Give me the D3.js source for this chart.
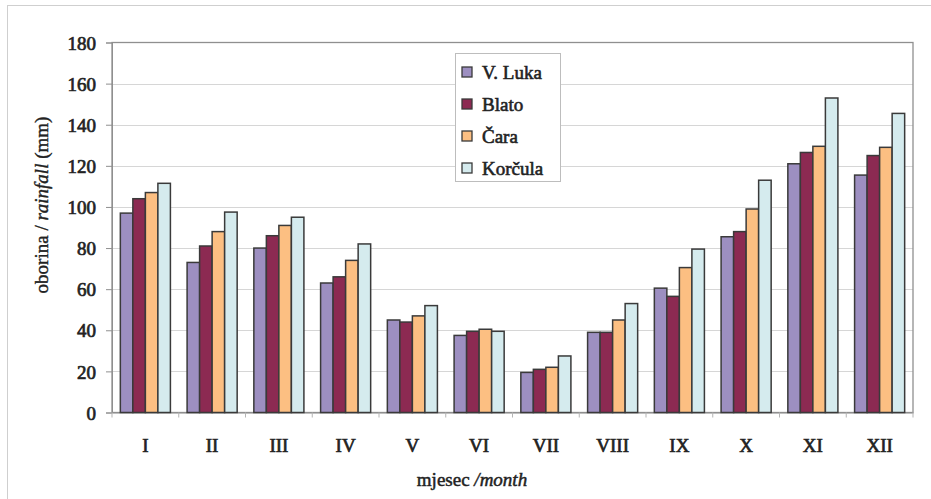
<!DOCTYPE html>
<html>
<head>
<meta charset="utf-8">
<script src="https://cdn.jsdelivr.net/npm/d3@7"></script>
<style>
  html, body { margin: 0; padding: 0; background: #fff; }
  svg { display: block; }
  text { font-family: "Liberation Serif", "DejaVu Serif", serif; fill: #222; }
</style>
</head>
<body>
<svg id="chart" width="931" height="499"></svg>
<script>
const months = ["I", "II", "III", "IV", "V", "VI", "VII", "VIII", "IX", "X", "XI", "XII"];
const seriesNames = ["V. Luka", "Blato", "Čara", "Korčula"];
const vLuka   = [97, 73, 80, 63, 45, 37.5, 19.5, 39, 60.5, 85.5, 121, 115.5];
const blato   = [104, 81, 86, 66, 44, 39.5, 21, 39, 56.5, 88, 126.5, 125];
const cara    = [107, 88, 91, 74, 47, 40.5, 22, 45, 70.5, 99, 129.5, 129];
const korcula = [111.5, 97.5, 95, 82, 52, 39.5, 27.5, 53, 79.5, 113, 153, 145.5];
const yTicks  = [0, 20, 40, 60, 80, 100, 120, 140, 160, 180];
const colors  = ["#9d8fc1", "#8c2a52", "#fcbf82", "#d5ebee"];

(function () {
const seriesValues = [vLuka, blato, cara, korcula];
const data = months.map((m, i) => ({ month: m, values: seriesValues.map((s, k) => ({ key: seriesNames[k], value: s[i] })) }));

const svg = d3.select("#chart");
const pl = 112, pr = 913, pt = 42.5, pb = 412.5;

// outer frame lines (top & left)
svg.append("line").attr("x1", 7).attr("x2", 931).attr("y1", 5.5).attr("y2", 5.5).attr("stroke", "#cfcfcf");
svg.append("line").attr("x1", 7.5).attr("x2", 7.5).attr("y1", 5).attr("y2", 499).attr("stroke", "#cfcfcf");

const x = d3.scaleBand().domain(months).range([pl, pr]).paddingInner(0.25).paddingOuter(0.125);
const x1 = d3.scaleBand().domain(seriesNames).range([0, x.bandwidth()]);
const y = d3.scaleLinear().domain([0, 180]).range([pb, pt]);
const color = d3.scaleOrdinal().domain(seriesNames).range(colors);

// gridlines
svg.append("g").selectAll("line").data(yTicks.filter(t => t > 0 && t < 180)).join("line")
  .attr("x1", pl).attr("x2", pr)
  .attr("y1", d => Math.round(y(d)) + 0.5).attr("y2", d => Math.round(y(d)) + 0.5)
  .attr("stroke", "#d6d6d6").attr("stroke-width", 1.2);

// plot frame
svg.append("rect").attr("x", pl).attr("y", pt).attr("width", pr - pl).attr("height", pb - pt)
  .attr("fill", "none").attr("stroke", "#8f8f8f").attr("stroke-width", 1.3);

function semi(sel, w) { sel.attr("stroke", "#2a2a2a").attr("stroke-width", w).attr("paint-order", "stroke"); }

// y axis
const yAxis = svg.append("g").attr("transform", `translate(${pl},0)`)
  .call(d3.axisLeft(y).tickValues(yTicks).tickSize(6).tickPadding(10));
yAxis.select(".domain").attr("stroke", "#8f8f8f");
yAxis.selectAll(".tick line").attr("stroke", "#8f8f8f");
yAxis.selectAll("text").attr("font-size", 19).attr("fill", "#222").style("font-family", "Liberation Serif").attr("dy", "0.35em").call(semi, 0.7);

// x axis
const xAxis = svg.append("g").attr("transform", `translate(0,${pb})`)
  .call(d3.axisBottom(x).tickSize(0).tickPadding(26));
xAxis.select(".domain").attr("stroke", "#8f8f8f");
xAxis.selectAll("text").attr("font-size", 19).attr("fill", "#222").style("font-family", "Liberation Serif").call(semi, 0.7);
// category boundary ticks
const step = x.step();
svg.append("g").selectAll("line").data(d3.range(months.length + 1)).join("line")
  .attr("x1", i => pl + i * step).attr("x2", i => pl + i * step)
  .attr("y1", pb).attr("y2", pb + 5)
  .attr("stroke", "#b5b5b5");

// bars
svg.append("g").selectAll("g").data(data).join("g")
  .attr("transform", d => `translate(${x(d.month)},0)`)
  .selectAll("rect").data(d => d.values).join("rect")
  .attr("x", d => x1(d.key))
  .attr("y", d => y(d.value))
  .attr("width", x1.bandwidth())
  .attr("height", d => pb - y(d.value))
  .attr("fill", d => color(d.key))
  .attr("stroke", "#3a3a3a").attr("stroke-width", 1.5);

// axis titles
const yt = svg.append("text").attr("transform", "translate(48,205) rotate(-90)")
  .attr("text-anchor", "middle").attr("font-size", 19).call(semi, 0.4);
yt.append("tspan").text("oborina / ");
yt.append("tspan").attr("font-style", "italic").text("rainfall");
yt.append("tspan").text(" (mm)");

const xt = svg.append("text").attr("x", 472).attr("y", 486).attr("text-anchor", "middle").attr("font-size", 19).call(semi, 0.5);
xt.append("tspan").text("mjesec ");
xt.append("tspan").attr("font-style", "italic").text("/month");

// legend
const lg = svg.append("g");
lg.append("rect").attr("x", 455.5).attr("y", 53.5).attr("width", 105).attr("height", 128)
  .attr("fill", "#fff").attr("stroke", "#bdbdbd");
const items = lg.selectAll("g").data(seriesNames).join("g")
  .attr("transform", (d, i) => `translate(462,${72 + i * 32})`);
items.append("rect").attr("x", 0).attr("y", -5).attr("width", 10).attr("height", 10)
  .attr("fill", d => color(d)).attr("stroke", "#3a3a3a").attr("stroke-width", 1.3);
items.append("text").attr("x", 20).attr("dy", "0.35em").attr("font-size", 19).call(semi, 0.6)
  .text(d => d);
})();
</script>
</body>
</html>
